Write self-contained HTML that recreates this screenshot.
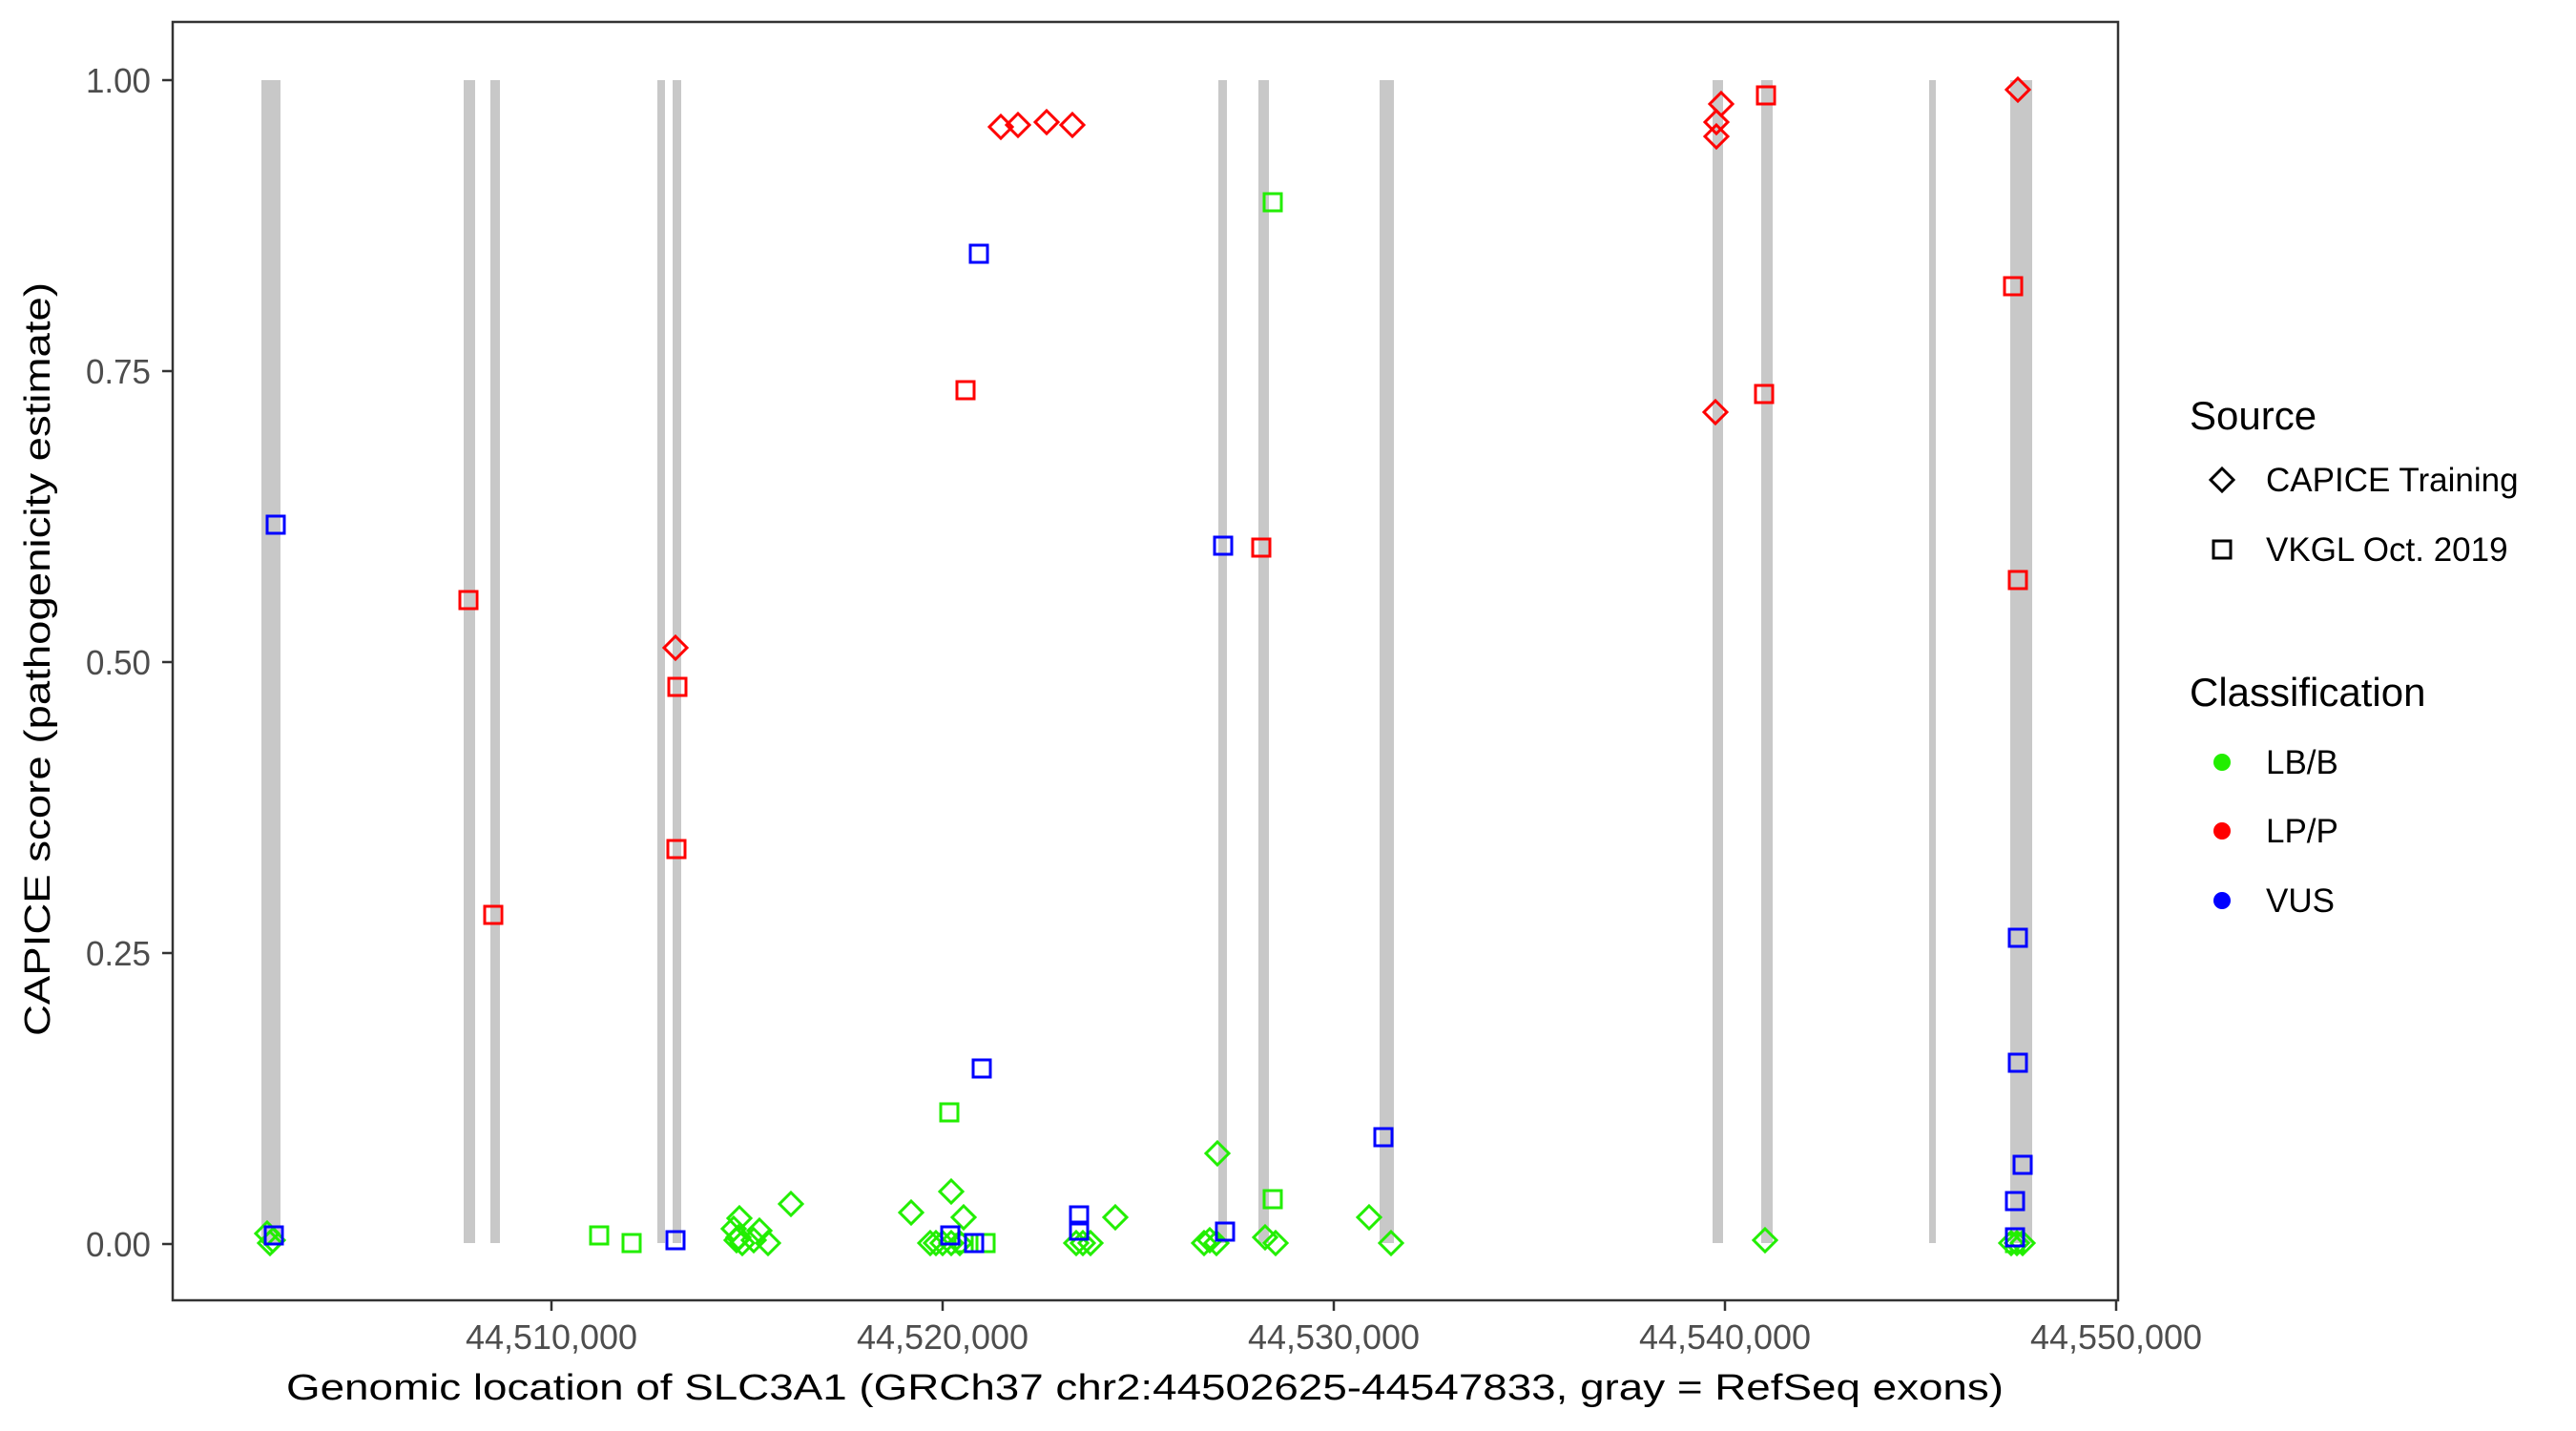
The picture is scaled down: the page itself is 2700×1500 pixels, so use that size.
<!DOCTYPE html>
<html><head><meta charset="utf-8"><style>
html,body{margin:0;padding:0;background:#fff;}
svg{display:block;}
text{font-family:"Liberation Sans",Arial,sans-serif;}
</style></head><body>
<svg width="2700" height="1500" viewBox="0 0 2700 1500" xmlns="http://www.w3.org/2000/svg">
<rect width="2700" height="1500" fill="#fff"/>
<g fill="#c8c8c8">
<rect x="274" y="84" width="20" height="1219"/>
<rect x="486" y="84" width="12" height="1219"/>
<rect x="514" y="84" width="10" height="1219"/>
<rect x="689" y="84" width="8" height="1219"/>
<rect x="705" y="84" width="9" height="1219"/>
<rect x="1277" y="84" width="9" height="1219"/>
<rect x="1319" y="84" width="11" height="1219"/>
<rect x="1446" y="84" width="15" height="1219"/>
<rect x="1795" y="84" width="11" height="1219"/>
<rect x="1846" y="84" width="12" height="1219"/>
<rect x="2022" y="84" width="7" height="1219"/>
<rect x="2107" y="84" width="23" height="1219"/>
</g>
<defs>
<path id="d" d="M0,-12 L12,0 L0,12 L-12,0 Z" fill="none" stroke-width="3"/>
<rect id="s" x="-9" y="-9" width="18" height="18" fill="none" stroke-width="3"/>
</defs>
<g stroke="#22ee00" fill="none">
<use href="#d" x="280" y="1293"/><use href="#d" x="283" y="1303"/><use href="#d" x="286" y="1300"/>
<use href="#s" x="628" y="1295"/><use href="#s" x="662" y="1303"/>
<use href="#d" x="775" y="1277"/><use href="#d" x="769" y="1288"/><use href="#d" x="774" y="1297"/><use href="#d" x="778" y="1303"/><use href="#d" x="772" y="1300"/>
<use href="#d" x="796" y="1290"/><use href="#d" x="790" y="1300"/><use href="#d" x="805" y="1303"/><use href="#d" x="829" y="1262"/>
<use href="#d" x="955" y="1271"/><use href="#d" x="997" y="1249"/><use href="#d" x="1010" y="1276"/>
<use href="#d" x="975" y="1303"/><use href="#d" x="981" y="1303"/><use href="#d" x="988" y="1303"/><use href="#d" x="997" y="1303"/><use href="#d" x="1006" y="1303"/>
<use href="#s" x="1033" y="1303"/><use href="#s" x="1010" y="1303"/>
<use href="#s" x="995" y="1166"/>
<use href="#d" x="1128" y="1303"/><use href="#d" x="1135" y="1303"/><use href="#d" x="1143" y="1303"/><use href="#d" x="1169" y="1276"/>
<use href="#d" x="1276" y="1209"/><use href="#d" x="1262" y="1303"/><use href="#d" x="1268" y="1300"/><use href="#d" x="1275" y="1303"/>
<use href="#s" x="1334" y="1257"/><use href="#d" x="1326" y="1297"/><use href="#d" x="1337" y="1303"/>
<use href="#s" x="1334" y="212"/>
<use href="#d" x="1435" y="1276"/><use href="#d" x="1458" y="1303"/>
<use href="#d" x="1850" y="1300"/>
<use href="#d" x="2108" y="1303"/><use href="#d" x="2114" y="1303"/><use href="#d" x="2120" y="1303"/><use href="#s" x="2112" y="1303"/>
</g>
<g stroke="#ff0000" fill="none">
<use href="#s" x="491" y="629"/><use href="#s" x="517" y="959"/>
<use href="#d" x="708" y="679"/><use href="#s" x="710" y="720"/><use href="#s" x="709" y="890"/>
<use href="#d" x="1049" y="133"/><use href="#d" x="1067" y="131"/><use href="#d" x="1097" y="128"/><use href="#d" x="1124" y="131"/>
<use href="#s" x="1012" y="409"/>
<use href="#s" x="1322" y="574"/>
<use href="#d" x="1804" y="109"/><use href="#d" x="1799" y="128"/><use href="#d" x="1799" y="143"/><use href="#d" x="1798" y="432"/>
<use href="#s" x="1851" y="100"/><use href="#s" x="1849" y="413"/>
<use href="#d" x="2115" y="94"/><use href="#s" x="2110" y="300"/><use href="#s" x="2115" y="608"/>
</g>
<g stroke="#0000ff" fill="none">
<use href="#s" x="289" y="550"/><use href="#s" x="287" y="1295"/>
<use href="#s" x="708" y="1300"/>
<use href="#s" x="1026" y="266"/><use href="#s" x="1029" y="1120"/>
<use href="#s" x="996" y="1295"/><use href="#s" x="1021" y="1303"/>
<use href="#s" x="1131" y="1274"/><use href="#s" x="1131" y="1290"/>
<use href="#s" x="1282" y="572"/><use href="#s" x="1284" y="1291"/>
<use href="#s" x="1450" y="1192"/>
<use href="#s" x="2115" y="983"/><use href="#s" x="2115" y="1114"/><use href="#s" x="2120" y="1221"/><use href="#s" x="2112" y="1259"/><use href="#s" x="2112" y="1297"/>
</g>
<rect x="181" y="23" width="2039" height="1340" fill="none" stroke="#333" stroke-width="2.5"/>
<g stroke="#333" stroke-width="2.5">
<line x1="170" y1="84" x2="181" y2="84"/><line x1="170" y1="389" x2="181" y2="389"/><line x1="170" y1="694" x2="181" y2="694"/><line x1="170" y1="999" x2="181" y2="999"/><line x1="170" y1="1304" x2="181" y2="1304"/>
<line x1="578" y1="1363" x2="578" y2="1374"/><line x1="988" y1="1363" x2="988" y2="1374"/><line x1="1398" y1="1363" x2="1398" y2="1374"/><line x1="1808" y1="1363" x2="1808" y2="1374"/><line x1="2218" y1="1363" x2="2218" y2="1374"/>
</g>
<g fill="#4d4d4d" font-size="36" text-anchor="end">
<text x="158" y="97" textLength="68" lengthAdjust="spacingAndGlyphs">1.00</text>
<text x="158" y="402" textLength="68" lengthAdjust="spacingAndGlyphs">0.75</text>
<text x="158" y="707" textLength="68" lengthAdjust="spacingAndGlyphs">0.50</text>
<text x="158" y="1012" textLength="68" lengthAdjust="spacingAndGlyphs">0.25</text>
<text x="158" y="1317" textLength="68" lengthAdjust="spacingAndGlyphs">0.00</text>
</g>
<g fill="#4d4d4d" font-size="36" text-anchor="middle">
<text x="578" y="1414" textLength="180" lengthAdjust="spacingAndGlyphs">44,510,000</text>
<text x="988" y="1414" textLength="180" lengthAdjust="spacingAndGlyphs">44,520,000</text>
<text x="1398" y="1414" textLength="180" lengthAdjust="spacingAndGlyphs">44,530,000</text>
<text x="1808" y="1414" textLength="180" lengthAdjust="spacingAndGlyphs">44,540,000</text>
<text x="2218" y="1414" textLength="180" lengthAdjust="spacingAndGlyphs">44,550,000</text>
</g>
<text x="1200" y="1467" font-size="38" text-anchor="middle" textLength="1800" lengthAdjust="spacingAndGlyphs">Genomic location of SLC3A1 (GRCh37 chr2:44502625-44547833, gray = RefSeq exons)</text>
<text transform="translate(52,691) rotate(-90)" font-size="38" text-anchor="middle" textLength="790" lengthAdjust="spacingAndGlyphs">CAPICE score (pathogenicity estimate)</text>
<text x="2295" y="450" font-size="42">Source</text>
<path d="M2329,491 L2341,503 L2329,515 L2317,503 Z" fill="none" stroke="#000" stroke-width="3"/>
<text x="2375" y="515" font-size="35">CAPICE Training</text>
<rect x="2320" y="567" width="18" height="18" fill="none" stroke="#000" stroke-width="3"/>
<text x="2375" y="588" font-size="35">VKGL Oct. 2019</text>
<text x="2295" y="740" font-size="42">Classification</text>
<circle cx="2329" cy="799" r="9" fill="#22ee00"/><text x="2375" y="811" font-size="35">LB/B</text>
<circle cx="2329" cy="871" r="9" fill="#ff0000"/><text x="2375" y="883" font-size="35">LP/P</text>
<circle cx="2329" cy="944" r="9" fill="#0000ff"/><text x="2375" y="956" font-size="35">VUS</text>
</svg>
</body></html>
